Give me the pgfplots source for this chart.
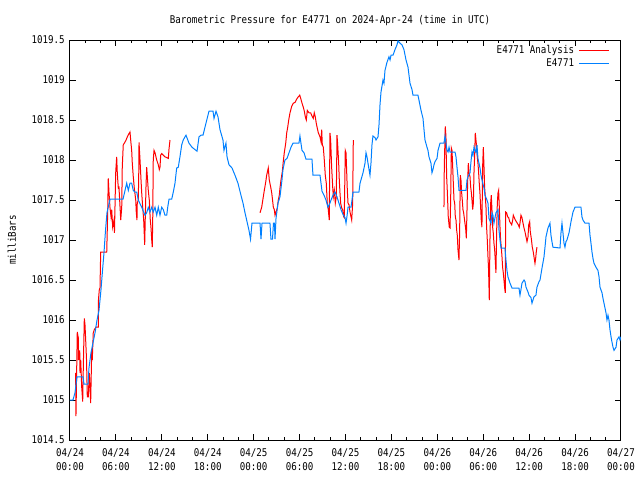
\documentclass[border=0pt]{standalone}
\usepackage{fontspec}
\setmainfont{DejaVu Sans Mono}[FakeStretch=0.86]
\usepackage{pgfplots}
\pgfplotsset{compat=1.18}
\definecolor{gpblue}{RGB}{0,128,255}
\definecolor{gpred}{RGB}{255,0,0}
\begin{document}
\fontsize{8}{10.5}\selectfont
\begin{tikzpicture}
\useasboundingbox (0,0) rectangle (480pt,360pt);
\begin{axis}[
  at={(52.5pt,30pt)}, anchor=south west,
  scale only axis, width=413.25pt, height=300pt,
  xmin=0, xmax=72, ymin=1014.5, ymax=1019.5,
  xtick={0,6,12,18,24,30,36,42,48,54,60,66,72},
  xticklabels={{04/24\\00:00},{04/24\\06:00},{04/24\\12:00},{04/24\\18:00},{04/25\\00:00},{04/25\\06:00},{04/25\\12:00},{04/25\\18:00},{04/26\\00:00},{04/26\\06:00},{04/26\\12:00},{04/26\\18:00},{04/27\\00:00}},
  minor x tick num=2,
  ytick={1014.5,1015,1015.5,1016,1016.5,1017,1017.5,1018,1018.5,1019,1019.5},
  yticklabels={1014.5,1015,1015.5,1016,1016.5,1017,1017.5,1018,1018.5,1019,1019.5},
  tick align=inside, major tick length=4.5pt, minor tick length=2.25pt,
  every tick/.style={black, line width=0.75pt},
  axis line style={line width=0.75pt},
  xticklabel style={align=center, inner sep=0pt, anchor=north, yshift=-6.5pt},
  yticklabel style={inner sep=0pt, anchor=east, xshift=-3.75pt},
  every axis title/.style={at={(0.472,1.0475)}, anchor=center},
  title={Barometric Pressure for E4771 on 2024-Apr-24 (time in UTC)},
  every axis y label/.style={at={(-0.1053,0.5)}, rotate=90, anchor=center},
  ylabel={milliBars},
  legend style={at={(1,1)}, anchor=north east, draw=none, fill=none, xshift=-8.25pt, yshift=-2.75pt, inner sep=0pt, row sep=0.25pt, column sep=2.5pt, nodes={inner sep=1pt, text height=6pt, text depth=1.5pt}},
  legend cell align=right,
  legend plot pos=right,
  legend image code/.code={\draw[#1, line width=0.75pt] (0pt,0pt) -- (22.5pt,0pt);},
  unbounded coords=jump,
]
\addplot[gpred, line width=0.75pt] table[row sep=\\] {
x y\\
0.74 1015.34\\ 0.78 1014.80\\ 0.95 1015.85\\ 1.08 1015.78\\ 1.11 1015.50\\ 1.27 1015.62\\ 1.31 1015.34\\ 1.40 1015.50\\
1.53 1015.16\\ 1.66 1014.98\\ 1.74 1015.41\\ 1.87 1016.02\\ 1.96 1015.94\\ 2.03 1015.79\\ 2.09 1015.66\\ 2.16 1015.50\\
2.26 1015.04\\ 2.39 1015.04\\ 2.52 1015.34\\ 2.61 1015.16\\ 2.70 1014.96\\ 2.84 1015.62\\ 2.91 1015.50\\ 3.04 1015.84\\
3.18 1015.88\\ 3.40 1015.91\\ 3.70 1015.91\\ 3.72 1016.25\\ 3.83 1016.38\\ 3.92 1016.40\\ 4.01 1016.85\\ 4.80 1016.85\\
4.87 1017.12\\ 4.93 1017.38\\ 5.00 1017.77\\ 5.10 1017.59\\ 5.23 1017.40\\ 5.36 1017.29\\ 5.45 1017.38\\ 5.58 1017.16\\
5.75 1017.25\\ 5.81 1017.09\\ 5.97 1017.84\\ 6.10 1018.04\\ 6.18 1017.84\\ 6.31 1017.65\\ 6.40 1017.66\\ 6.49 1017.50\\
6.63 1017.25\\ 6.76 1017.41\\ 6.83 1017.91\\ 6.96 1018.19\\ 7.10 1018.21\\ 7.28 1018.24\\ 7.41 1018.27\\ 7.54 1018.30\\
7.71 1018.33\\ 7.84 1018.35\\ 7.93 1018.25\\ 8.06 1018.12\\ 8.14 1017.96\\ 8.27 1017.79\\ 8.40 1017.65\\ 8.59 1017.50\\
8.66 1017.35\\ 8.75 1017.25\\ 8.79 1017.46\\ 8.92 1017.50\\ 8.98 1017.79\\ 9.02 1018.22\\ 9.15 1018.00\\ 9.28 1017.75\\
9.37 1017.59\\ 9.50 1017.41\\ 9.63 1017.25\\ 9.76 1016.94\\ 9.84 1017.29\\ 9.93 1017.66\\ 10.02 1017.91\\ 10.15 1017.73\\
10.23 1017.62\\ 10.36 1017.50\\ 10.49 1017.25\\ 10.58 1017.16\\ 10.68 1017.00\\ 10.75 1016.91\\ 10.81 1017.25\\ 10.88 1018.00\\
10.98 1018.12\\ 11.11 1018.09\\ 11.33 1018.00\\ 11.54 1017.94\\ 11.67 1017.88\\ 11.76 1017.91\\ 11.85 1018.06\\ 11.98 1018.08\\
12.41 1018.04\\ 12.85 1018.02\\ 12.94 1018.14\\ 13.07 1018.25\\
13.10 nan\\
24.83 1017.34\\ 25.05 1017.41\\ 25.26 1017.54\\ 25.39 1017.62\\ 25.57 1017.72\\ 25.70 1017.81\\ 25.91 1017.90\\ 26.04 1017.75\\
26.23 1017.66\\ 26.36 1017.59\\ 26.49 1017.48\\ 26.57 1017.41\\ 26.70 1017.38\\ 26.79 1017.31\\ 26.92 1017.35\\ 27.09 1017.40\\
27.22 1017.50\\ 27.35 1017.56\\ 27.44 1017.65\\ 27.57 1017.75\\ 27.74 1017.85\\ 27.87 1017.98\\ 28.00 1018.09\\ 28.19 1018.21\\
28.32 1018.34\\ 28.45 1018.41\\ 28.58 1018.50\\ 28.75 1018.59\\ 28.97 1018.67\\ 29.18 1018.71\\ 29.40 1018.72\\ 29.62 1018.76\\
29.83 1018.79\\ 30.02 1018.81\\ 30.15 1018.77\\ 30.32 1018.71\\ 30.49 1018.66\\ 30.62 1018.61\\ 30.75 1018.54\\ 30.88 1018.50\\
31.01 1018.62\\ 31.23 1018.59\\ 31.45 1018.59\\ 31.62 1018.55\\ 31.79 1018.52\\ 31.92 1018.59\\ 32.05 1018.54\\ 32.18 1018.46\\
32.31 1018.40\\ 32.45 1018.34\\ 32.58 1018.31\\ 32.67 1018.29\\ 32.80 1018.23\\ 32.89 1018.38\\ 32.97 1018.19\\ 33.10 1018.16\\
33.23 1018.00\\ 33.36 1017.81\\ 33.49 1017.71\\ 33.62 1017.46\\ 33.75 1017.38\\ 33.88 1017.25\\ 33.97 1018.34\\ 34.06 1018.25\\
34.19 1017.91\\ 34.33 1017.66\\ 34.41 1017.54\\ 34.54 1017.62\\ 34.67 1017.46\\ 34.80 1017.54\\ 34.89 1018.31\\ 34.98 1018.19\\
35.11 1017.96\\ 35.19 1017.75\\ 35.28 1017.59\\ 35.37 1017.46\\ 35.50 1017.40\\ 35.63 1017.38\\ 35.76 1017.29\\ 35.84 1017.28\\
35.97 1018.12\\ 36.07 1018.09\\ 36.16 1017.84\\ 36.24 1017.62\\ 36.33 1017.46\\ 36.46 1017.44\\ 36.59 1017.35\\ 36.81 1017.25\\
36.94 1017.46\\ 37.02 1018.25\\
37.05 nan\\
48.87 1017.41\\ 48.91 1017.91\\ 49.04 1018.42\\ 49.13 1018.29\\ 49.17 1018.04\\ 49.22 1017.79\\ 49.30 1017.62\\ 49.43 1017.29\\
49.56 1017.16\\ 49.66 1017.15\\ 49.75 1017.54\\ 49.83 1018.15\\ 49.92 1018.12\\ 50.01 1017.91\\ 50.09 1017.71\\ 50.18 1017.50\\
50.27 1017.46\\ 50.35 1017.29\\ 50.44 1017.25\\ 50.53 1017.12\\ 50.61 1017.06\\ 50.70 1016.88\\ 50.83 1016.75\\ 50.92 1017.12\\
51.00 1017.81\\ 51.09 1017.75\\ 51.18 1017.59\\ 51.26 1017.50\\ 51.35 1017.38\\ 51.44 1017.34\\ 51.52 1017.28\\ 51.61 1017.21\\
51.70 1017.15\\ 51.79 1017.02\\ 51.88 1017.38\\ 51.97 1017.75\\ 52.05 1017.96\\ 52.14 1017.84\\ 52.27 1017.79\\ 52.36 1017.66\\
52.45 1017.59\\ 52.53 1017.50\\ 52.62 1017.38\\ 52.71 1017.46\\ 52.79 1017.84\\ 52.88 1018.06\\ 52.96 1018.34\\ 53.05 1018.25\\
53.14 1018.16\\ 53.22 1018.04\\ 53.31 1017.96\\ 53.40 1017.84\\ 53.48 1017.71\\ 53.57 1017.59\\ 53.66 1017.41\\ 53.74 1017.25\\
53.83 1017.16\\ 53.92 1017.91\\ 54.01 1018.16\\ 54.10 1017.91\\ 54.18 1017.66\\ 54.27 1017.54\\ 54.36 1017.41\\ 54.44 1017.16\\
54.53 1017.00\\ 54.62 1016.79\\ 54.70 1016.62\\ 54.79 1016.25\\ 54.88 1017.00\\ 54.97 1017.46\\ 55.05 1017.56\\ 55.14 1017.38\\
55.23 1017.16\\ 55.31 1017.09\\ 55.40 1016.96\\ 55.49 1016.88\\ 55.57 1016.75\\ 55.66 1016.59\\ 55.75 1017.09\\ 55.84 1017.46\\
55.93 1017.59\\ 56.01 1017.62\\ 56.10 1017.41\\ 56.19 1017.16\\ 56.27 1017.00\\ 56.36 1016.91\\ 56.45 1016.79\\ 56.53 1016.66\\
56.62 1016.59\\ 56.71 1016.50\\ 56.79 1016.41\\ 56.88 1016.34\\ 56.93 1017.35\\ 57.06 1017.34\\ 57.19 1017.29\\ 57.32 1017.28\\
57.46 1017.23\\ 57.59 1017.21\\ 57.72 1017.19\\ 57.85 1017.25\\ 57.93 1017.31\\ 58.06 1017.28\\ 58.19 1017.25\\ 58.32 1017.23\\
58.45 1017.21\\ 58.58 1017.19\\ 58.71 1017.16\\ 58.80 1017.21\\ 58.93 1017.31\\ 59.06 1017.28\\ 59.20 1017.21\\ 59.33 1017.15\\
59.46 1017.10\\ 59.59 1017.04\\ 59.72 1016.98\\ 59.85 1017.04\\ 59.94 1017.19\\ 60.07 1017.23\\ 60.15 1017.10\\ 60.28 1017.02\\
60.41 1016.91\\ 60.54 1016.85\\ 60.63 1016.79\\ 60.76 1016.71\\ 60.85 1016.77\\ 60.93 1016.85\\ 61.02 1016.91\\
};
\addlegendentry{E4771 Analysis}
\addplot[gpblue, line width=0.75pt] table[row sep=\\] {
x y\\
0.00 1015.00\\ 0.39 1015.00\\ 0.65 1015.09\\ 0.91 1015.29\\ 1.70 1015.29\\ 1.83 1015.20\\ 2.35 1015.20\\ 2.48 1015.40\\
2.74 1015.59\\ 3.27 1015.84\\ 3.53 1016.00\\ 3.79 1016.12\\ 3.92 1016.25\\ 4.05 1016.38\\ 4.25 1016.62\\ 4.44 1016.84\\
4.64 1017.12\\ 4.83 1017.34\\ 4.97 1017.40\\ 5.23 1017.51\\ 6.93 1017.51\\ 7.19 1017.62\\ 7.41 1017.71\\ 7.62 1017.62\\
7.84 1017.71\\ 8.06 1017.71\\ 8.27 1017.62\\ 8.49 1017.60\\ 8.72 1017.60\\ 8.92 1017.50\\ 9.37 1017.41\\ 9.80 1017.31\\
10.02 1017.34\\ 10.23 1017.41\\ 10.45 1017.35\\ 10.68 1017.41\\ 10.88 1017.35\\ 11.11 1017.41\\ 11.33 1017.31\\ 11.54 1017.41\\
11.76 1017.31\\ 11.98 1017.41\\ 12.19 1017.38\\ 12.41 1017.31\\ 12.64 1017.31\\ 12.77 1017.41\\ 12.94 1017.51\\ 13.29 1017.51\\
13.50 1017.60\\ 13.72 1017.71\\ 13.94 1017.90\\ 14.15 1017.91\\ 14.37 1018.04\\ 14.60 1018.19\\ 14.80 1018.25\\ 15.03 1018.29\\
15.16 1018.31\\ 15.55 1018.21\\ 15.94 1018.16\\ 16.60 1018.11\\ 16.86 1018.29\\ 17.12 1018.31\\ 17.38 1018.31\\ 17.64 1018.41\\
17.90 1018.51\\ 18.16 1018.61\\ 18.69 1018.61\\ 18.82 1018.52\\ 19.08 1018.61\\ 19.34 1018.54\\ 19.60 1018.38\\ 19.99 1018.25\\
20.12 1018.12\\ 20.38 1018.21\\ 20.52 1018.04\\ 20.78 1017.94\\ 21.17 1017.90\\ 21.56 1017.81\\ 21.95 1017.71\\ 22.34 1017.56\\
22.61 1017.46\\ 22.87 1017.34\\ 23.13 1017.23\\ 23.39 1017.12\\ 23.59 1017.01\\ 23.78 1017.21\\ 24.83 1017.21\\ 24.96 1017.01\\
25.09 1017.21\\ 26.13 1017.21\\ 26.26 1017.01\\ 26.46 1017.01\\ 26.59 1017.21\\ 26.72 1017.21\\ 26.79 1017.01\\ 26.92 1017.27\\
27.18 1017.46\\ 27.44 1017.54\\ 27.70 1017.75\\ 27.83 1017.88\\ 28.09 1018.00\\ 28.36 1018.02\\ 28.62 1018.09\\ 28.88 1018.16\\
29.14 1018.21\\ 29.92 1018.21\\ 30.05 1018.30\\ 30.18 1018.21\\ 30.32 1018.12\\ 30.58 1018.09\\ 30.84 1018.01\\ 31.62 1018.01\\
31.75 1017.81\\ 32.67 1017.81\\ 32.80 1017.71\\ 32.93 1017.61\\ 33.19 1017.56\\ 33.45 1017.50\\ 33.71 1017.41\\ 33.97 1017.46\\
34.11 1017.50\\ 34.37 1017.56\\ 34.63 1017.60\\ 34.89 1017.54\\ 35.15 1017.46\\ 35.41 1017.38\\ 35.67 1017.32\\ 35.94 1017.28\\
36.07 1017.21\\ 36.20 1017.30\\ 36.33 1017.41\\ 36.72 1017.41\\ 36.85 1017.50\\ 36.98 1017.60\\ 37.76 1017.60\\ 37.90 1017.71\\
38.29 1017.84\\ 38.55 1017.96\\ 38.68 1018.09\\ 38.81 1018.04\\ 38.94 1017.96\\ 39.20 1017.81\\ 39.33 1017.96\\ 39.46 1018.19\\
39.59 1018.30\\ 39.86 1018.28\\ 39.99 1018.25\\ 40.25 1018.29\\ 40.38 1018.44\\ 40.51 1018.69\\ 40.64 1018.85\\ 40.90 1019.00\\
41.03 1018.96\\ 41.16 1019.12\\ 41.42 1019.22\\ 41.68 1019.29\\ 41.82 1019.25\\ 41.95 1019.31\\ 42.21 1019.31\\ 42.47 1019.38\\
42.73 1019.44\\ 42.86 1019.49\\ 43.12 1019.46\\ 43.38 1019.44\\ 43.64 1019.38\\ 43.91 1019.25\\ 44.17 1019.16\\ 44.30 1019.06\\
44.43 1018.96\\ 44.69 1018.88\\ 44.82 1018.81\\ 45.47 1018.81\\ 45.60 1018.75\\ 45.87 1018.62\\ 46.13 1018.52\\ 46.26 1018.38\\
46.39 1018.25\\ 46.65 1018.16\\ 46.78 1018.12\\ 46.91 1018.04\\ 47.17 1017.96\\ 47.30 1017.84\\ 47.43 1017.88\\ 47.56 1017.94\\
47.70 1017.98\\ 47.96 1018.02\\ 48.09 1018.12\\ 48.35 1018.21\\ 48.87 1018.21\\ 49.00 1018.30\\ 49.27 1018.12\\ 49.40 1018.10\\
49.53 1018.16\\ 49.66 1018.10\\ 50.31 1018.10\\ 50.44 1018.04\\ 50.57 1017.91\\ 50.70 1017.79\\ 50.83 1017.62\\ 51.75 1017.62\\
51.88 1017.75\\ 52.01 1017.79\\ 52.27 1017.84\\ 52.40 1017.98\\ 52.53 1018.10\\ 52.66 1018.06\\ 52.79 1018.16\\ 53.05 1018.09\\
53.18 1018.19\\ 53.31 1018.02\\ 53.58 1017.90\\ 53.71 1017.81\\ 53.84 1017.75\\ 54.10 1017.65\\ 54.23 1017.56\\ 54.49 1017.50\\
54.62 1017.46\\ 54.75 1017.27\\ 55.01 1017.21\\ 55.14 1017.34\\ 55.27 1017.31\\ 55.40 1017.21\\ 55.66 1017.34\\ 55.93 1017.38\\
56.06 1017.12\\ 56.19 1017.00\\ 56.32 1016.90\\ 56.84 1016.90\\ 56.97 1016.75\\ 57.10 1016.62\\ 57.23 1016.54\\ 57.50 1016.46\\
57.76 1016.40\\ 58.67 1016.40\\ 58.80 1016.31\\ 58.93 1016.38\\ 59.06 1016.46\\ 59.33 1016.50\\ 59.46 1016.48\\ 59.59 1016.41\\
59.85 1016.35\\ 59.98 1016.31\\ 60.24 1016.28\\ 60.37 1016.21\\ 60.50 1016.25\\ 60.63 1016.29\\ 60.89 1016.31\\ 61.02 1016.41\\
61.29 1016.48\\ 61.42 1016.50\\ 61.68 1016.65\\ 61.94 1016.79\\ 62.07 1016.91\\ 62.20 1017.04\\ 62.46 1017.15\\ 62.72 1017.21\\
62.85 1017.06\\ 62.98 1016.98\\ 63.11 1016.91\\ 64.03 1016.90\\ 64.16 1017.09\\ 64.29 1017.21\\ 64.42 1017.09\\ 64.55 1016.96\\
64.68 1016.91\\ 64.81 1016.98\\ 64.94 1017.00\\ 65.21 1017.09\\ 65.34 1017.16\\ 65.47 1017.23\\ 65.60 1017.29\\ 65.73 1017.35\\
65.99 1017.41\\ 66.77 1017.41\\ 66.90 1017.29\\ 67.03 1017.25\\ 67.30 1017.21\\ 67.82 1017.21\\ 67.95 1017.06\\ 68.08 1016.96\\
68.21 1016.85\\ 68.34 1016.77\\ 68.47 1016.71\\ 68.73 1016.66\\ 68.99 1016.62\\ 69.13 1016.54\\ 69.26 1016.41\\ 69.52 1016.34\\
69.65 1016.27\\ 69.78 1016.21\\ 69.91 1016.15\\ 70.04 1016.09\\ 70.17 1016.00\\ 70.30 1016.06\\ 70.43 1016.00\\ 70.56 1015.88\\
70.70 1015.79\\ 70.83 1015.72\\ 70.96 1015.66\\ 71.09 1015.62\\ 71.35 1015.66\\ 71.48 1015.75\\ 71.74 1015.79\\ 71.87 1015.75\\
72.00 1015.79\\
};
\addlegendentry{E4771}
\end{axis}
\end{tikzpicture}
\end{document}
